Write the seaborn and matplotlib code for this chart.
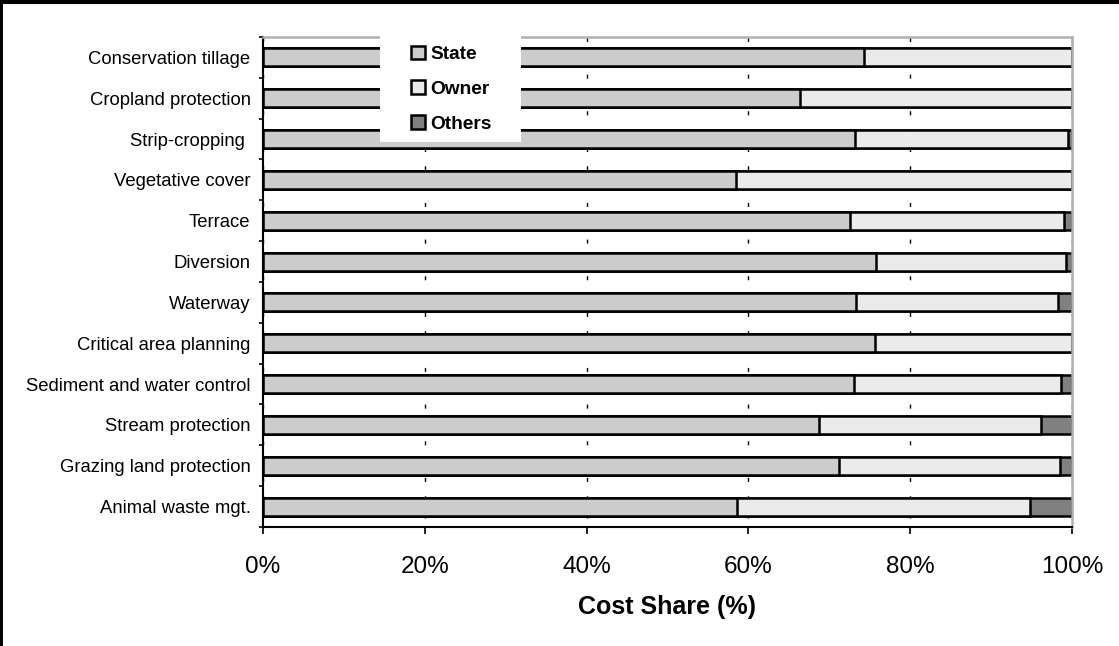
import numpy as np
import pandas as pd
import matplotlib.pyplot as plt
import matplotlib.ticker as mtick
from matplotlib.patches import Patch, Rectangle
from matplotlib.lines import Line2D
import seaborn as sns


# conservation practices, top to bottom
practices = ['Conservation tillage', 'Cropland protection', 'Strip-cropping ',
             'Vegetative cover', 'Terrace', 'Diversion', 'Waterway',
             'Critical area planning', 'Sediment and water control',
             'Stream protection', 'Grazing land protection', 'Animal waste mgt.']
# cost share (%) by payer
state = [74.3, 66.4, 73.2, 58.5, 72.6, 75.8, 73.3, 75.6, 73.0, 68.7, 71.2, 58.6]
owner = [25.7, 33.6, 26.3, 41.5, 26.45, 23.5, 25.0, 24.4, 25.7, 27.5, 27.3, 36.2]
others = [0.0, 0.0, 0.5, 0.0, 0.95, 0.7, 1.7, 0.0, 1.3, 3.8, 1.5, 5.2]
x_ticks = [0, 20, 40, 60, 80, 100]

STATE_C = '#cccccc'
OWNER_C = '#ebebeb'
OTHERS_C = '#808080'

W, H = 1119, 646

sns.set_theme(style='white')
plt.rcParams['font.family'] = ['Liberation Sans', 'DejaVu Sans']
plt.rcParams['text.color'] = 'black'
plt.rcParams['axes.labelcolor'] = 'black'
plt.rcParams['xtick.color'] = 'black'
plt.rcParams['ytick.color'] = 'black'

df = pd.DataFrame({'practice': practices, 'state': state,
                   'owner': owner, 'others': others})
# cumulative ends for layered (stacked) bars
df['owner_cum'] = df['state'] + df['owner']
df['total'] = df['owner_cum'] + df['others']

fig, ax = plt.subplots(figsize=(W / 100, H / 100), dpi=100)
fig.subplots_adjust(left=263 / W, right=1072 / W, top=1 - 37 / H, bottom=1 - 527 / H)

bar_kw = dict(y='practice', orient='h', width=0.44, edgecolor='black',
              linewidth=1.8, saturation=1, errorbar=None, ax=ax)
sns.barplot(data=df, x='total', color=OTHERS_C, **bar_kw)
sns.barplot(data=df, x='owner_cum', color=OWNER_C, **bar_kw)
sns.barplot(data=df, x='state', color=STATE_C, **bar_kw)

# axes settings
ax.set_xlim(0, 100)
ax.set_ylim(11.5, -0.5)
ax.set_xticks(x_ticks)
ax.xaxis.set_major_formatter(mtick.FormatStrFormatter('%d%%'))
ax.set_yticks(np.arange(-0.5, 12, 1), minor=True)
ax.set_ylabel('')
ax.set_xlabel('Cost Share (%)', fontsize=18, fontweight='bold', labelpad=12)

ax.tick_params(axis='x', which='major', bottom=True, direction='out', length=5,
               width=1.2, labelsize=17.5, pad=16, colors='black')
ax.tick_params(axis='y', which='major', left=True, length=0, labelsize=13.3, pad=9,
               labelcolor='black')
ax.tick_params(axis='y', which='minor', left=True, direction='out', length=3,
               width=1.2, color='black')

ax.set_axisbelow(True)
ax.grid(axis='x', color='black', linewidth=1, linestyle=(6.8, (2.9, 10.3)))
ax.grid(axis='y', visible=False)

for side in ['left', 'bottom']:
    ax.spines[side].set_color('black')
    ax.spines[side].set_linewidth(1.5)
for side in ['top', 'right']:
    ax.spines[side].set_color('#b0b0b0')
    ax.spines[side].set_linewidth(1.8)

# white box behind legend
ax.add_patch(Rectangle((380 / W, 1 - 142 / H), 141 / W, 110 / H,
                       transform=fig.transFigure, facecolor='white',
                       edgecolor='none', zorder=4, clip_on=False))
handles = [Patch(facecolor=c, edgecolor='black', linewidth=1.8, label=l)
           for c, l in zip([STATE_C, OWNER_C, OTHERS_C], ['State', 'Owner', 'Others'])]
leg = ax.legend(handles=handles, loc='upper left', frameon=False,
                bbox_to_anchor=(401 / W, 1 - 36 / H), bbox_transform=fig.transFigure,
                prop={'weight': 'bold', 'size': 13.8}, borderpad=0,
                handlelength=0.73, handleheight=0.73, handletextpad=0.3,
                labelspacing=0.9)
leg.set_zorder(5)

# figure frame (top and left edges)
fig.add_artist(Line2D([0, 1], [1, 1], transform=fig.transFigure, color='black', linewidth=5.8))
fig.add_artist(Line2D([0, 0], [0, 1], transform=fig.transFigure, color='black', linewidth=4.3))

fig.savefig('out.png', dpi=100)
